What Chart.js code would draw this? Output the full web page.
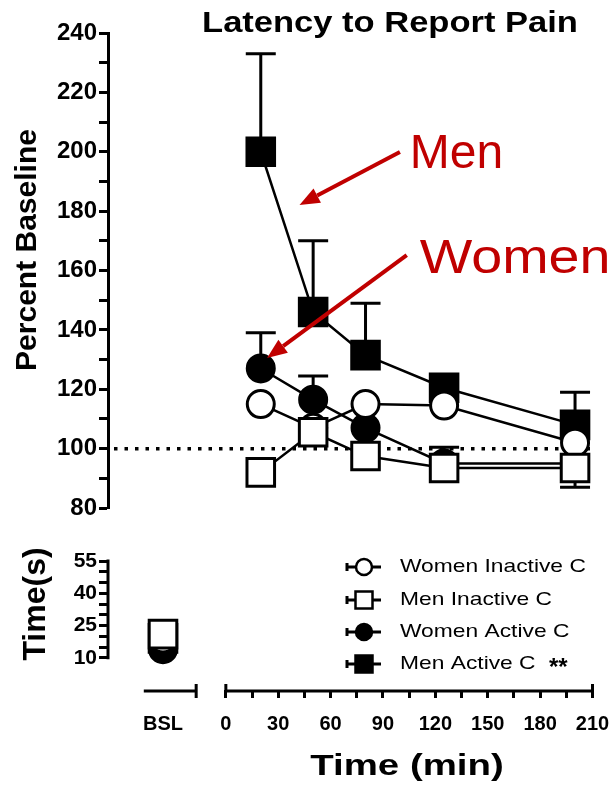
<!DOCTYPE html>
<html>
<head>
<title>Latency to Report Pain</title>
<script src="https://cdn.jsdelivr.net/npm/chart.js"></script>
<style>
  body { margin: 0; background: #fff; }
  #wrap { position: relative; width: 615px; height: 788px; }
  #wrap canvas { position: absolute; left: 0; top: 0; }
</style>
</head>
<body>
<div id="wrap">
  <canvas id="bottomChart" width="615" height="788"></canvas>
  <canvas id="topChart" width="615" height="788"></canvas>
</div>
<script>
// time after cream application (min)
const timePoints = [20, 50, 80, 125, 200];
const bslPosition = -36;   // where the baseline column sits on the time scale
const bslLabel = 'BSL';

// latency, percent of baseline
const womenInactive = [115, 107, 115, 114.5, 102];
const menInactive = [92, 105.5, 97.5, 93.5, 93.5];
const womenActive = [127, 116.5, 107, 95, 95];
const menActive = [200, 146, 131.5, 120.5, 108];

// SEM (drawn one-sided, 0 = hidden behind the symbol)
const womenInactiveErr = [0, 0, 0, 0, 0];
const menInactiveErr = [0, 0, 0, 0, 6.5];
const womenActiveErr = [12, 8, 0, 5.5, 0];
const menActiveErr = [33, 24, 17.5, 0, 11];

// baseline latency (s)
const bslWomenInactive = 19;
const bslMenInactive = 21;
const bslWomenActive = 14;
const bslMenActive = 19;

const FONT = "'Liberation Sans', Arial, Helvetica, sans-serif";
const RED = '#c00000';
Chart.defaults.font.family = FONT;
Chart.defaults.color = '#000';

// legend order; `order` controls drawing (lower = on top)
const series = [
  { label: 'Women Inactive C', values: womenInactive, err: womenInactiveErr, bsl: bslWomenInactive, shape: 'circle', fill: '#fff', dir: -1, order: 1 },
  { label: 'Men Inactive C', values: menInactive, err: menInactiveErr, bsl: bslMenInactive, shape: 'rect', fill: '#fff', dir: -1, order: 0 },
  { label: 'Women Active C', values: womenActive, err: womenActiveErr, bsl: bslWomenActive, shape: 'circle', fill: '#000', dir: 1, order: 2 },
  { label: 'Men Active C', values: menActive, err: menActiveErr, bsl: bslMenActive, shape: 'rect', fill: '#000', dir: 1, order: 3 }
];

function pointOpts(s) {
  return {
    pointStyle: s.shape,
    pointRadius: s.shape === 'rect' ? 19.5 : 13.5,
    pointBackgroundColor: s.fill,
    pointBorderColor: '#000',
    pointBorderWidth: 3
  };
}

function drawText(ctx, text, x, y, o) {
  ctx.save();
  ctx.font = o.font;
  ctx.fillStyle = o.color || '#000';
  ctx.textAlign = o.align || 'left';
  ctx.textBaseline = o.baseline || 'alphabetic';
  ctx.translate(x, y);
  if (o.rotate) ctx.rotate(o.rotate);
  ctx.scale(o.sx || 1, 1);
  ctx.fillText(text, 0, 0);
  ctx.restore();
}

function drawArrow(ctx, x0, y0, x1, y1) {
  const a = Math.atan2(y1 - y0, x1 - x0);
  const head = 20, half = 8;
  const bx = x1 - head * Math.cos(a), by = y1 - head * Math.sin(a);
  ctx.save();
  ctx.strokeStyle = RED;
  ctx.fillStyle = RED;
  ctx.lineWidth = 4;
  ctx.beginPath();
  ctx.moveTo(x0, y0);
  ctx.lineTo(bx, by);
  ctx.stroke();
  ctx.beginPath();
  ctx.moveTo(x1, y1);
  ctx.lineTo(bx - half * Math.sin(a), by + half * Math.cos(a));
  ctx.lineTo(bx + half * Math.sin(a), by - half * Math.cos(a));
  ctx.closePath();
  ctx.fill();
  ctx.restore();
}

const xMin = -67.5, xMax = 210;

// ---------- top panel: percent baseline ----------
const topExtras = {
  id: 'topExtras',
  beforeDatasetsDraw(chart) {
    const ctx = chart.ctx, xs = chart.scales.x, ys = chart.scales.y;
    // dotted 100% line
    ctx.save();
    ctx.strokeStyle = '#000';
    ctx.lineWidth = 3.5;
    ctx.setLineDash([3.5, 7]);
    ctx.beginPath();
    ctx.moveTo(chart.chartArea.left + 6, ys.getPixelForValue(100));
    ctx.lineTo(chart.chartArea.right, ys.getPixelForValue(100));
    ctx.stroke();
    ctx.restore();
    // error bars
    ctx.save();
    ctx.strokeStyle = '#000';
    ctx.lineWidth = 3;
    series.forEach(s => {
      s.values.forEach((v, i) => {
        const e = s.err[i];
        if (!e) return;
        const x = xs.getPixelForValue(timePoints[i]);
        const y0 = ys.getPixelForValue(v);
        const y1 = ys.getPixelForValue(v + s.dir * e);
        ctx.beginPath();
        ctx.moveTo(x, y0);
        ctx.lineTo(x, y1);
        ctx.moveTo(x - 15, y1);
        ctx.lineTo(x + 15, y1);
        ctx.stroke();
      });
    });
    ctx.restore();
  },
  afterDraw(chart) {
    const ctx = chart.ctx, xs = chart.scales.x, ys = chart.scales.y;
    const px = v => xs.getPixelForValue(v), py = v => ys.getPixelForValue(v);
    drawText(ctx, 'Latency to Report Pain', 390, 32, { font: 'bold 29px ' + FONT, align: 'center', sx: 1.19 });
    drawText(ctx, 'Percent Baseline', 28, 250, { font: 'bold 30px ' + FONT, align: 'center', baseline: 'middle', rotate: -Math.PI / 2 });
    drawArrow(ctx, px(99.7), py(199.9), px(42.2), py(182.1));
    drawArrow(ctx, px(103.6), py(165.2), px(23.6), py(130.5));
    drawText(ctx, 'Men', px(105.3), py(194.5), { font: '48px ' + FONT, color: RED });
    drawText(ctx, 'Women', px(111), py(159.2), { font: '48px ' + FONT, color: RED, sx: 1.16 });
  }
};

new Chart(document.getElementById('topChart'), {
  type: 'line',
  data: {
    datasets: series.map(s => Object.assign({
      label: s.label,
      data: s.values.map((v, i) => ({ x: timePoints[i], y: v })),
      borderColor: '#000',
      borderWidth: 2.5,
      tension: 0,
      order: s.order
    }, pointOpts(s)))
  },
  options: {
    responsive: false,
    animation: false,
    devicePixelRatio: 1,
    layout: { padding: { top: 33, right: 14, bottom: 280, left: 0 } },
    plugins: { legend: { display: false }, tooltip: { enabled: false } },
    scales: {
      x: { type: 'linear', min: xMin, max: xMax, display: false },
      y: {
        min: 80, max: 240,
        afterFit(s) { s.width = 108; s.paddingTop = 0; s.paddingBottom = 0; },
        ticks: {
          stepSize: 10, autoSkip: false, padding: 2,
          font: { size: 24, weight: 'bold' },
          callback: v => (v % 20 === 0 ? v : '')
        },
        grid: { drawOnChartArea: false, tickLength: 9, tickWidth: 3, tickColor: '#000' },
        border: { display: true, color: '#000', width: 3 }
      }
    }
  },
  plugins: [topExtras]
});

// ---------- bottom panel: baseline seconds + time axis ----------
const bottomExtras = {
  id: 'bottomExtras',
  beforeDatasetsDraw(chart) {
    const ctx = chart.ctx, xs = chart.scales.x, ys = chart.scales.y;
    const axisY = chart.chartArea.bottom + 1;
    ctx.save();
    ctx.strokeStyle = '#000';
    ctx.lineWidth = 3;
    // y axis only spans 10..55
    const yl = chart.chartArea.left;
    ctx.beginPath();
    ctx.moveTo(yl, ys.getPixelForValue(10) + 1.5);
    ctx.lineTo(yl, ys.getPixelForValue(55) - 1.5);
    ctx.stroke();
    // broken x axis: BSL piece and 0..210 piece
    ctx.beginPath();
    ctx.moveTo(xs.getPixelForValue(-47), axisY);
    ctx.lineTo(xs.getPixelForValue(-17), axisY);
    ctx.moveTo(xs.getPixelForValue(-17), axisY - 7);
    ctx.lineTo(xs.getPixelForValue(-17), axisY + 7);
    ctx.moveTo(xs.getPixelForValue(0), axisY);
    ctx.lineTo(xs.getPixelForValue(210), axisY);
    ctx.moveTo(xs.getPixelForValue(0), axisY - 7);
    ctx.lineTo(xs.getPixelForValue(0), axisY);
    ctx.moveTo(xs.getPixelForValue(210), axisY - 7);
    ctx.lineTo(xs.getPixelForValue(210), axisY);
    ctx.stroke();
    ctx.restore();
  },
  afterDraw(chart) {
    const ctx = chart.ctx;
    drawText(ctx, 'Time(s)', 36, 604, { font: 'bold 32px ' + FONT, align: 'center', baseline: 'middle', rotate: -Math.PI / 2 });
    drawText(ctx, 'Time (min)', 407, 775, { font: 'bold 30px ' + FONT, align: 'center', sx: 1.28 });
    // legend: short line through the marker
    const rows = [567, 600, 632, 664];
    series.forEach((s, i) => {
      const y = rows[i], cx = 364;
      ctx.save();
      ctx.strokeStyle = '#000';
      ctx.lineWidth = 3;
      ctx.beginPath();
      ctx.moveTo(347, y);
      ctx.lineTo(381, y);
      ctx.moveTo(347, y - 4);
      ctx.lineTo(347, y + 4);
      ctx.stroke();
      ctx.fillStyle = s.fill;
      ctx.lineWidth = 2.5;
      ctx.beginPath();
      if (s.shape === 'circle') ctx.arc(cx, y, 8, 0, Math.PI * 2);
      else ctx.rect(cx - 8.5, y - 8.5, 17, 17);
      ctx.fill();
      ctx.stroke();
      ctx.restore();
      drawText(ctx, s.label, 400, y, { font: '19px ' + FONT, baseline: 'middle', sx: 1.2 });
    });
    drawText(ctx, '**', 549, rows[3] + 4, { font: 'bold 24px ' + FONT, baseline: 'middle' });
  }
};

new Chart(document.getElementById('bottomChart'), {
  type: 'line',
  data: {
    datasets: series.map(s => Object.assign({
      label: s.label,
      data: [{ x: bslPosition, y: s.bsl }],
      showLine: false,
      order: s.order
    }, pointOpts(s)))
  },
  options: {
    responsive: false,
    animation: false,
    devicePixelRatio: 1,
    layout: { padding: { top: 561, right: 14, bottom: 0, left: 0 } },
    plugins: { legend: { display: false }, tooltip: { enabled: false } },
    scales: {
      x: {
        type: 'linear', min: xMin, max: xMax,
        afterFit(s) { s.height = 98; s.paddingLeft = 0; s.paddingRight = 0; },
        afterBuildTicks(s) {
          const t = [{ value: bslPosition }];
          for (let v = 0; v <= 210; v += 15) t.push({ value: v });
          s.ticks = t;
        },
        ticks: {
          autoSkip: false, maxRotation: 0, padding: 14,
          font: { size: 20, weight: 'bold' },
          callback: v => (v === bslPosition ? bslLabel : (v % 30 === 0 ? v : ''))
        },
        grid: {
          drawOnChartArea: false, tickLength: 8, tickWidth: 3,
          tickColor: c => (c.tick && c.tick.value === bslPosition ? 'rgba(0,0,0,0)' : '#000')
        },
        border: { display: false }
      },
      y: {
        min: -5, max: 55,
        afterFit(s) { s.width = 108; s.paddingTop = 0; s.paddingBottom = 0; },
        afterBuildTicks(s) {
          const t = [];
          for (let v = 10; v <= 55; v += 5) t.push({ value: v });
          s.ticks = t;
        },
        ticks: {
          autoSkip: false, padding: 2,
          font: { size: 21, weight: 'bold' },
          callback: v => ((v - 10) % 15 === 0 ? v : '')
        },
        grid: { drawOnChartArea: false, tickLength: 9, tickWidth: 3, tickColor: '#000' },
        border: { display: false }
      }
    }
  },
  plugins: [bottomExtras]
});
</script>
</body>
</html>
